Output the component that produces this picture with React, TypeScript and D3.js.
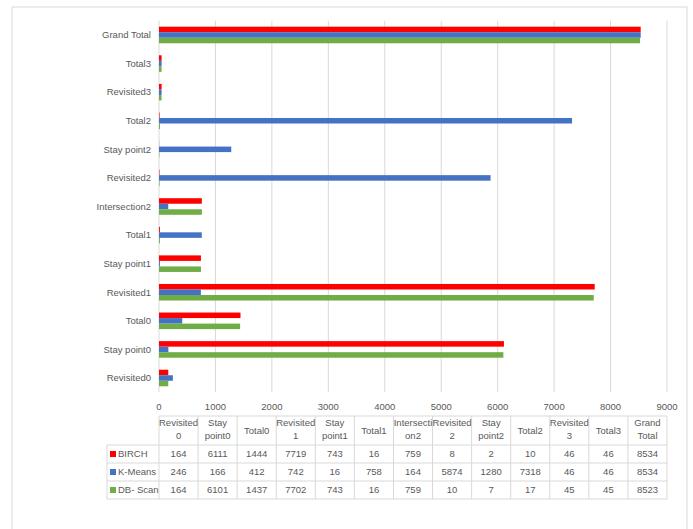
import React from "react";
import * as d3 from "d3";

const categories = [
  "Revisited0", "Stay point0", "Total0", "Revisited1", "Stay point1", "Total1",
  "Intersection2", "Revisited2", "Stay point2", "Total2", "Revisited3", "Total3", "Grand Total",
];
const headerLabels = [
  ["Revisited", "0"], ["Stay", "point0"], ["Total0"], ["Revisited", "1"], ["Stay", "point1"], ["Total1"],
  ["Intersecti", "on2"], ["Revisited", "2"], ["Stay", "point2"], ["Total2"], ["Revisited", "3"], ["Total3"], ["Grand", "Total"],
];
const seriesNames = ["BIRCH", "K-Means", "DB- Scan"];
const birch = [164, 6111, 1444, 7719, 743, 16, 759, 8, 2, 10, 46, 46, 8534];
const kmeans = [246, 166, 412, 742, 16, 758, 164, 5874, 1280, 7318, 46, 46, 8534];
const dbscan = [164, 6101, 1437, 7702, 743, 16, 759, 10, 7, 17, 45, 45, 8523];
const xTicks = [0, 1000, 2000, 3000, 4000, 5000, 6000, 7000, 8000, 9000];
const colors = ["#ff0000", "#4472c4", "#70ad47"];

export default function App() {
  const W = 693, H = 529;
  const x0 = 159, x1 = 667;
  const top = 20.7, bottom = 392.3;
  const x = d3.scaleLinear().domain([0, 9000]).range([x0, x1]);
  // Grand Total at top, Revisited0 at bottom
  const y = d3.scaleBand<string>().domain([...categories].reverse()).range([top, bottom]).paddingInner(0.42).paddingOuter(0.21);
  const series = [birch, kmeans, dbscan];
  const inner = d3.scaleBand<number>().domain([0, 1, 2]).range([0, y.bandwidth()]);
  const font = "'Liberation Sans', Arial, sans-serif";
  const txt = "#595959";
  const grid = "#d9d9d9";

  const colW = (x1 - x0) / categories.length;
  const tTop = 416, hdrH = 29, rowH = 18;
  const legendLeft = 107;

  return (
    <svg width={W} height={H} style={{ position: "absolute", left: 0, top: 0 }} fontFamily={font}>
      <rect x={0} y={0} width={W} height={H} fill="#fff" />
      <rect x={12} y={7} width={675} height={H} fill="#fff" stroke={grid} strokeWidth={1} />
      {xTicks.map((t) => (
        <line key={t} x1={x(t)} x2={x(t)} y1={top} y2={bottom} stroke={grid} strokeWidth={1} />
      ))}
      {categories.map((c, i) =>
        series.map((s, k) => (
          <rect key={c + k} x={x(0)} y={(y(c) as number) + (inner(k) as number)} width={x(s[i]) - x(0)} height={inner.bandwidth()} fill={colors[k]} />
        ))
      )}
      {categories.map((c) => (
        <text key={c} x={151} y={(y(c) as number) + y.bandwidth() / 2} dy="0.35em" textAnchor="end" fontSize={9.5} fill={txt}>{c}</text>
      ))}
      {xTicks.map((t) => (
        <text key={t} x={x(t)} y={407} dy="0.35em" textAnchor="middle" fontSize={9.5} fill={txt}>{t}</text>
      ))}
      {/* data table */}
      <g stroke={grid} strokeWidth={1}>
        <line x1={x0} x2={x1} y1={tTop} y2={tTop} />
        {[0, 1, 2, 3].map((r) => (
          <line key={r} x1={legendLeft} x2={x1} y1={tTop + hdrH + r * rowH} y2={tTop + hdrH + r * rowH} />
        ))}
        <line x1={legendLeft} x2={legendLeft} y1={tTop + hdrH} y2={tTop + hdrH + 3 * rowH} />
        {d3.range(categories.length + 1).map((j) => (
          <line key={j} x1={x0 + j * colW} x2={x0 + j * colW} y1={tTop} y2={tTop + hdrH + 3 * rowH} />
        ))}
      </g>
      {headerLabels.map((lines, j) => (
        <text key={j} x={x0 + (j + 0.5) * colW} textAnchor="middle" fontSize={9.5} fill={txt}>
          {lines.length === 1 ? (
            <tspan x={x0 + (j + 0.5) * colW} y={tTop + hdrH / 2} dy="0.35em">{lines[0]}</tspan>
          ) : (
            lines.map((l, li) => (
              <tspan key={li} x={x0 + (j + 0.5) * colW} y={tTop + 7 + li * 12.5} dy="0.35em">{l}</tspan>
            ))
          )}
        </text>
      ))}
      {seriesNames.map((n, r) => {
        const cy = tTop + hdrH + (r + 0.5) * rowH;
        return (
          <g key={n}>
            <rect x={110} y={cy - 3} width={6} height={6} fill={colors[r]} />
            <text x={118} y={cy} dy="0.35em" fontSize={9.5} fill={txt}>{n}</text>
            {series[r].map((v, j) => (
              <text key={j} x={x0 + (j + 0.5) * colW} y={cy} dy="0.35em" textAnchor="middle" fontSize={9.5} fill={txt}>{v}</text>
            ))}
          </g>
        );
      })}
    </svg>
  );
}
